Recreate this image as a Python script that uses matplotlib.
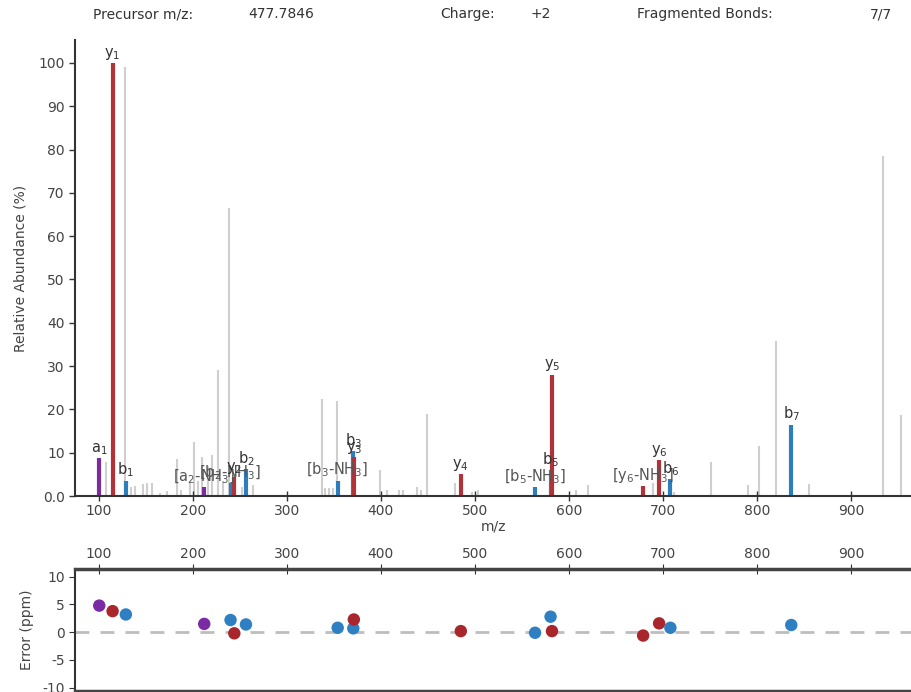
import matplotlib
matplotlib.use("Agg")
import matplotlib.pyplot as plt

plt.rcParams['axes.unicode_minus'] = False

# ---------------- data ----------------
ion_mz = [100.3, 114.5, 128.6, 212.0, 240.0, 244.0, 256.4, 354.0, 370.6, 371.2,
          485.0, 564.0, 580.5, 582.0, 679.0, 696.0, 708.0, 836.6]
ion_int = [8.7, 100.0, 3.5, 2.0, 3.0, 4.3, 6.2, 3.5, 10.3, 9.0,
           5.0, 2.0, 6.0, 28.0, 2.2, 8.2, 3.9, 16.5]
ion_type = ['a', 'y', 'b', 'a', 'b', 'y', 'b', 'b', 'b', 'y',
            'y', 'b', 'b', 'y', 'y', 'y', 'b', 'b']
ion_label = [r'a$_1$', r'y$_1$', r'b$_1$', r'[a$_2$-NH$_3$]', r'[b$_2$-NH$_3$]', r'y$_2$',
             r'b$_2$', r'[b$_3$-NH$_3$]', r'b$_3$', r'y$_3$', r'y$_4$', r'[b$_5$-NH$_3$]',
             r'b$_5$', r'y$_5$', r'[y$_6$-NH$_3$]', r'y$_6$', r'b$_6$', r'b$_7$']

other_mz = [108, 127.7, 134, 138, 147, 151, 156, 165, 172, 183, 187, 197, 201, 205, 210,
            216, 220, 227, 232, 238, 252, 264, 337, 341, 345, 349, 353, 399, 406, 419,
            423, 438, 443, 449, 479, 497, 503, 608, 620, 690, 712, 751, 791, 802, 820,
            855, 934, 953]
other_int = [7.8, 99.0, 2.0, 2.3, 2.7, 3.0, 3.0, 0.8, 1.2, 8.6, 1.5, 3.0, 12.5, 3.5, 9.0,
             7.0, 9.5, 29.0, 3.5, 66.5, 2.0, 2.5, 22.5, 1.8, 1.8, 1.8, 22.0, 6.0, 1.5, 1.5,
             1.5, 2.0, 1.5, 19.0, 3.0, 1.0, 1.5, 1.5, 2.5, 3.0, 1.0, 7.8, 2.5, 11.6, 35.8,
             2.8, 78.5, 18.6]

err_mz = [100.3, 114.5, 128.6, 212.0, 240.0, 244.0, 256.4, 354.0, 370.6, 371.2,
          485.0, 564.0, 580.5, 582.0, 679.0, 696.0, 708.0, 836.6]
err_ppm = [4.8, 3.8, 3.2, 1.5, 2.2, -0.2, 1.4, 0.8, 0.7, 2.3,
           0.2, -0.1, 2.8, 0.2, -0.6, 1.6, 0.8, 1.3]
err_type = ['a', 'y', 'b', 'a', 'b', 'y', 'b', 'b', 'b', 'y',
            'y', 'b', 'b', 'y', 'y', 'y', 'b', 'b']

x_ticks = [100, 200, 300, 400, 500, 600, 700, 800, 900]
y_ticks = [0, 10, 20, 30, 40, 50, 60, 70, 80, 90, 100]
y_ticklabels = ['0.0', '10', '20', '30', '40', '50', '60', '70', '80', '90', '100']
err_ticks = [-10, -5, 0, 5, 10]

bar_colors = {'a': '#7b2d9e', 'b': '#2e7dbf', 'y': '#b2323a'}
dot_colors = {'a': '#7a2aa3', 'b': '#2f7fc3', 'y': '#a8262c'}

TXT = '#444444'
XMIN, XMAX = 74.5, 964

fig = plt.figure(figsize=(9.11, 6.92), dpi=100)

# ---------------- header ----------------
hdr = dict(fontsize=10, color='#333333', va='center')
fig.text(93 / 911, 1 - 14 / 692, 'Precursor m/z:', **hdr)
fig.text(248 / 911, 1 - 14 / 692, '477.7846', **hdr)
fig.text(440 / 911, 1 - 14 / 692, 'Charge:', **hdr)
fig.text(530 / 911, 1 - 14 / 692, '+2', **hdr)
fig.text(637 / 911, 1 - 14 / 692, 'Fragmented Bonds:', **hdr)
fig.text(870 / 911, 1 - 14 / 692, '7/7', **hdr)

# ---------------- top: spectrum ----------------
ax = fig.add_axes([75 / 911, 1 - 496 / 692, (911 - 75) / 911, (496 - 40) / 692])
ax.vlines(other_mz, 0, other_int, colors='#cfcfcf', linewidth=1.5, zorder=1)
for m, v, t in zip(ion_mz, ion_int, ion_type):
    ax.vlines(m, 0, v, colors=bar_colors[t], linewidth=3, zorder=2)
for m, v, lab in zip(ion_mz, ion_int, ion_label):
    col = '#555555' if lab.startswith('[') else '#333333'
    ax.annotate(lab, (m, v), xytext=(0, 1), textcoords='offset points',
                ha='center', va='bottom', fontsize=10.5, color=col, zorder=3)

ax.set_xlim(XMIN, XMAX)
ax.set_ylim(0, 105.3)
ax.set_xticks(x_ticks)
ax.set_yticks(y_ticks)
ax.set_yticklabels(y_ticklabels)
ax.tick_params(axis='x', direction='inout', length=7, width=1, colors='#333333',
               labelsize=10, labelcolor=TXT, pad=2)
ax.tick_params(axis='y', direction='out', length=4, width=1, colors='#333333',
               labelsize=10, labelcolor=TXT)
for s in ['top', 'right']:
    ax.spines[s].set_visible(False)
for s in ['left', 'bottom']:
    ax.spines[s].set_color('#333333')
    ax.spines[s].set_linewidth(1.5)
ax.set_xlabel('m/z', fontsize=10, color=TXT, labelpad=1)
ax.set_ylabel('Relative Abundance (%)', fontsize=10, color=TXT, labelpad=8)

# ---------------- bottom: error ----------------
ax2 = fig.add_axes([75 / 911, 1 - 691 / 692, (911 - 75) / 911, (691 - 569) / 692])
ax2.axhline(0, color='#bdbdbd', linestyle=(0, (5, 4)), linewidth=2, zorder=1)
ax2.scatter(err_mz, err_ppm, s=80, c=[dot_colors[t] for t in err_type],
            edgecolors='none', zorder=3)
ax2.set_xlim(XMIN, XMAX)
ax2.set_ylim(-10.6, 11.4)
ax2.set_xticks(x_ticks)
ax2.set_yticks(err_ticks)
ax2.xaxis.tick_top()
ax2.tick_params(axis='x', top=True, bottom=False, labeltop=True, labelbottom=False,
                direction='inout', length=7, colors='#333333', labelsize=10,
                labelcolor=TXT, pad=2)
ax2.tick_params(axis='y', direction='out', length=4, colors='#333333',
                labelsize=10, labelcolor=TXT)
ax2.spines['right'].set_visible(False)
for s in ['top', 'bottom']:
    ax2.spines[s].set_color('#444444')
    ax2.spines[s].set_linewidth(2.5)
ax2.spines['left'].set_color('#333333')
ax2.spines['left'].set_linewidth(1.5)
ax2.set_ylabel('Error (ppm)', fontsize=10, color=TXT, labelpad=6)

fig.savefig('out.png', dpi=100)
